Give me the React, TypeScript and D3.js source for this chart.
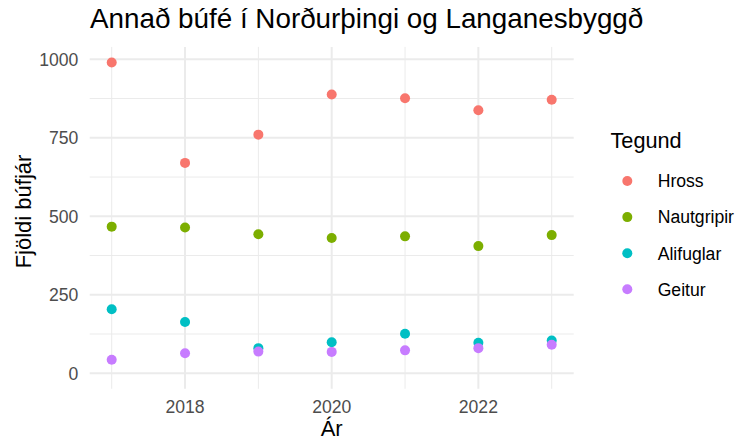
import React from 'react';
import * as d3 from 'd3';

const years = [2017, 2018, 2019, 2020, 2021, 2022, 2023];
const species = ['Hross', 'Nautgripir', 'Alifuglar', 'Geitur'];
const colors = ['#F8766D', '#7CAE00', '#00BFC4', '#C77CFF'];

const hross = [990, 670, 760, 888, 876, 838, 871];
const nautgripir = [467, 464, 443, 431, 436, 405, 440];
const alifuglar = [204, 163, 80, 99, 126, 97, 104];
const geitur = [43, 64, 69, 68, 73, 80, 91];

const seriesValues = [hross, nautgripir, alifuglar, geitur];

const xTicks = [2018, 2020, 2022];
const yTicks = [0, 250, 500, 750, 1000];

const W = 739;
const H = 441;
const FONT = '"Liberation Sans", Arial, sans-serif';

const App = () => {
  const ref = React.useRef<SVGSVGElement>(null);

  React.useEffect(() => {
    const svg = d3.select(ref.current);
    svg.selectAll('*').remove();

    const left = 89.7;
    const right = 573.7;
    const top = 46.9;
    const bottom = 388.8;

    const xMin = d3.min(years)!;
    const xMax = d3.max(years)!;
    const xPad = (xMax - xMin) * 0.05;
    const x = d3.scaleLinear().domain([xMin - xPad, xMax + xPad]).range([left, right]);

    const allVals = seriesValues.flat();
    const yLo = 0;
    const yHi = d3.max(allVals)!;
    const yPad = (yHi - yLo) * 0.05;
    const y = d3.scaleLinear().domain([yLo - yPad, yHi + yPad]).range([bottom, top]);

    const grid = svg.append('g');
    // minor gridlines
    const yMinor = yTicks.slice(0, -1).map((d) => d + 125);
    grid.selectAll('line.ymin').data(yMinor).join('line')
      .attr('x1', left).attr('x2', right)
      .attr('y1', (d) => y(d)).attr('y2', (d) => y(d))
      .attr('stroke', '#EBEBEB').attr('stroke-width', 1);
    const xMinor = years.filter((d) => !xTicks.includes(d));
    grid.selectAll('line.xmin').data(xMinor).join('line')
      .attr('y1', top).attr('y2', bottom)
      .attr('x1', (d) => x(d)).attr('x2', (d) => x(d))
      .attr('stroke', '#EBEBEB').attr('stroke-width', 1);
    // major gridlines
    grid.selectAll('line.ymaj').data(yTicks).join('line')
      .attr('x1', left).attr('x2', right)
      .attr('y1', (d) => y(d)).attr('y2', (d) => y(d))
      .attr('stroke', '#EBEBEB').attr('stroke-width', 2);
    grid.selectAll('line.xmaj').data(xTicks).join('line')
      .attr('y1', top).attr('y2', bottom)
      .attr('x1', (d) => x(d)).attr('x2', (d) => x(d))
      .attr('stroke', '#EBEBEB').attr('stroke-width', 2);

    // points
    seriesValues.forEach((vals, i) => {
      svg.append('g').selectAll('circle').data(vals).join('circle')
        .attr('cx', (_, j) => x(years[j]))
        .attr('cy', (d) => y(d))
        .attr('r', 5)
        .attr('fill', colors[i]);
    });

    // y tick labels
    svg.append('g').selectAll('text').data(yTicks).join('text')
      .attr('x', 78.3).attr('y', (d) => y(d))
      .attr('dy', '0.36em')
      .attr('text-anchor', 'end')
      .attr('font-family', FONT).attr('font-size', 17.6)
      .attr('fill', '#4D4D4D')
      .text((d) => d);

    // x tick labels
    svg.append('g').selectAll('text').data(xTicks).join('text')
      .attr('x', (d) => x(d)).attr('y', 412.8)
      .attr('text-anchor', 'middle')
      .attr('font-family', FONT).attr('font-size', 17.6)
      .attr('fill', '#4D4D4D')
      .text((d) => d);

    // axis titles
    svg.append('text')
      .attr('x', (left + right) / 2).attr('y', 436)
      .attr('text-anchor', 'middle')
      .attr('font-family', FONT).attr('font-size', 22)
      .attr('fill', '#000')
      .text('Ár');
    svg.append('text')
      .attr('transform', `translate(31,211.5) rotate(-90)`)
      .attr('text-anchor', 'middle')
      .attr('font-family', FONT).attr('font-size', 22)
      .attr('fill', '#000')
      .text('Fjöldi búfjár');

    // title
    svg.append('text')
      .attr('x', 90).attr('y', 27.5)
      .attr('font-family', FONT).attr('font-size', 27.8)
      .attr('fill', '#000')
      .text('Annað búfé í Norðurþingi og Langanesbyggð');

    // legend
    const leg = svg.append('g');
    leg.append('text')
      .attr('x', 610.5).attr('y', 147.5)
      .attr('font-family', FONT).attr('font-size', 21.7)
      .attr('fill', '#000')
      .text('Tegund');
    const ly = d3.scalePoint().domain(species).range([181, 289.3]);
    leg.selectAll('circle').data(species).join('circle')
      .attr('cx', 627.3).attr('cy', (d) => ly(d)!)
      .attr('r', 5)
      .attr('fill', (_, i) => colors[i]);
    leg.selectAll('text.lab').data(species).join('text')
      .attr('class', 'lab')
      .attr('x', 657.7).attr('y', (d) => ly(d)!)
      .attr('dy', '0.36em')
      .attr('font-family', FONT).attr('font-size', 17.6)
      .attr('fill', '#000')
      .text((d) => d);
  }, []);

  return <svg ref={ref} width={W} height={H} style={{ display: 'block', position: 'absolute', left: 0, top: 0 }}></svg>;
};

export default App;
